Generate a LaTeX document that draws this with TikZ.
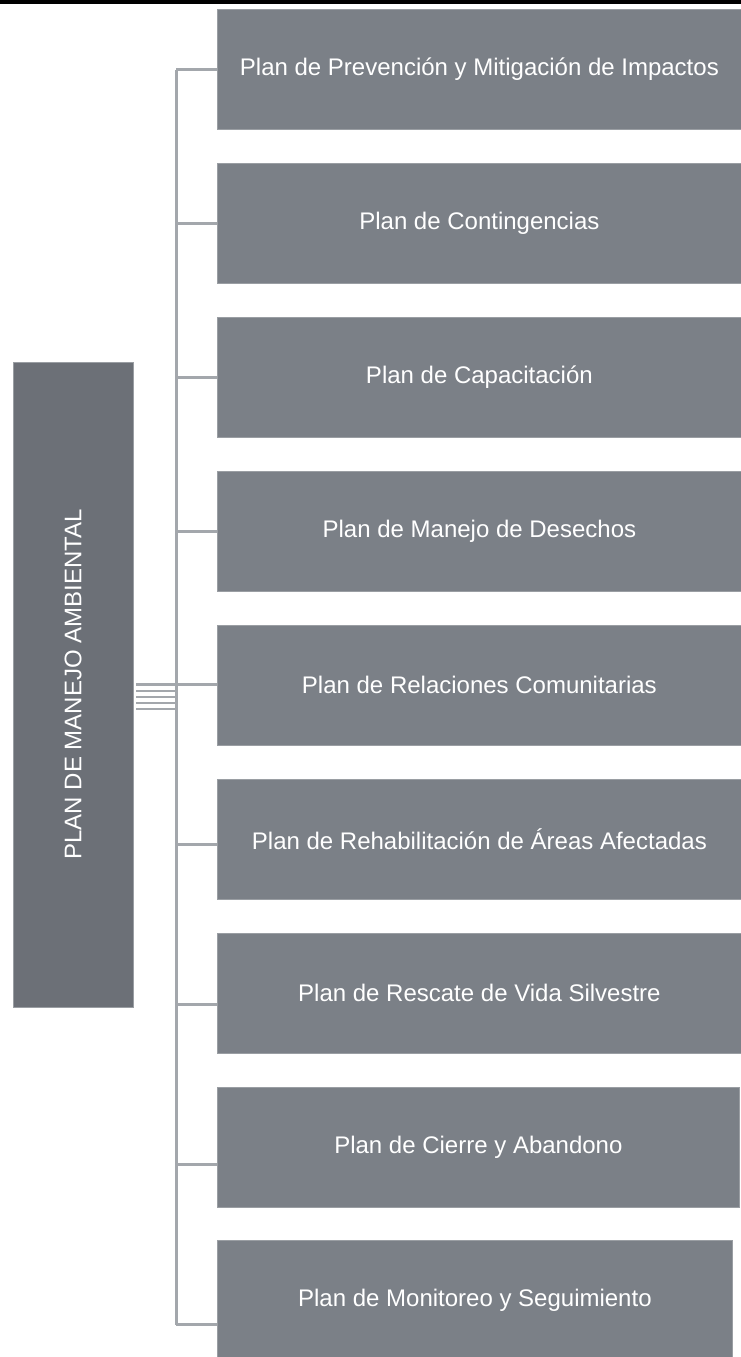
\documentclass[tikz,border=0pt]{standalone}
\usepackage{fontspec}
\setmainfont{Liberation Sans}
\usetikzlibrary{calc}
\definecolor{boxgray}{HTML}{7B8087}
\definecolor{maingray}{HTML}{6C7077}
\definecolor{boxedge}{HTML}{9A9EA3}
\definecolor{linegray}{HTML}{A3A7AC}
\begin{document}
\begin{tikzpicture}[x=1pt,y=-1pt,
  plan/.style={rectangle, fill=boxgray, draw=boxedge, line width=0.8pt,
    minimum height=120pt, inner sep=0pt, anchor=north west, text=white,
    font=\fontsize{24}{28}\selectfont},
  mainbox/.style={rectangle, fill=maingray, draw=boxedge, line width=0.8pt,
    inner sep=0pt, text=white, font=\fontsize{24}{28}\selectfont},
  spine/.style={draw=linegray, line width=3pt},
  hubline/.style={draw=linegray, line width=2.4pt}]
\useasboundingbox (0,0) rectangle (741,1357);
\fill[black] (0,0) rectangle (741,4);
% left main box
\node[mainbox, rotate=90, minimum width=645pt, minimum height=120pt] (m) at (73,684.5) {PLAN DE MANEJO AMBIENTAL};
% right boxes
\node[plan, minimum width=524pt] (b1) at (217,9) {Plan de Prevención y Mitigación de Impactos};
\node[plan, minimum width=524pt] (b2) at (217,163) {Plan de Contingencias};
\node[plan, minimum width=524pt] (b3) at (217,317) {Plan de Capacitación};
\node[plan, minimum width=524pt] (b4) at (217,471) {Plan de Manejo de Desechos};
\node[plan, minimum width=524pt] (b5) at (217,625) {Plan de Relaciones Comunitarias};
\node[plan, minimum width=524pt] (b6) at (217,779) {Plan de Rehabilitación de Áreas Afectadas};
\node[plan, minimum width=524pt] (b7) at (217,933) {Plan de Rescate de Vida Silvestre};
\node[plan, minimum width=522pt] (b8) at (217,1087) {Plan de Cierre y Abandono};
\node[plan, minimum width=515pt] (b9) at (217,1240) {Plan de Monitoreo y Seguimiento};
% spine
\coordinate (t1) at (176,69.5);
\coordinate (t2) at (176,223.5);
\coordinate (t3) at (176,377.5);
\coordinate (t4) at (176,531.5);
\coordinate (t5) at (176,684.5);
\coordinate (t6) at (176,844.5);
\coordinate (t7) at (176,1004.5);
\coordinate (t8) at (176,1164.5);
\coordinate (t9) at (176,1324.5);
\draw[spine] (t1) -- (t9);
\foreach \i in {1,...,9} {\draw[spine] (t\i) -- (t\i -| b\i.west);}
% hub lines from main box
\draw[hubline] ($(m.south)+(3,0)$) -- (t5);
\foreach \dy in {6.5,12.5,18.5,24.5} {
  \draw[hubline] ($(m.south)+(3,\dy)$) -- ($(t5)+(0,\dy)$);
}
\end{tikzpicture}
\end{document}
